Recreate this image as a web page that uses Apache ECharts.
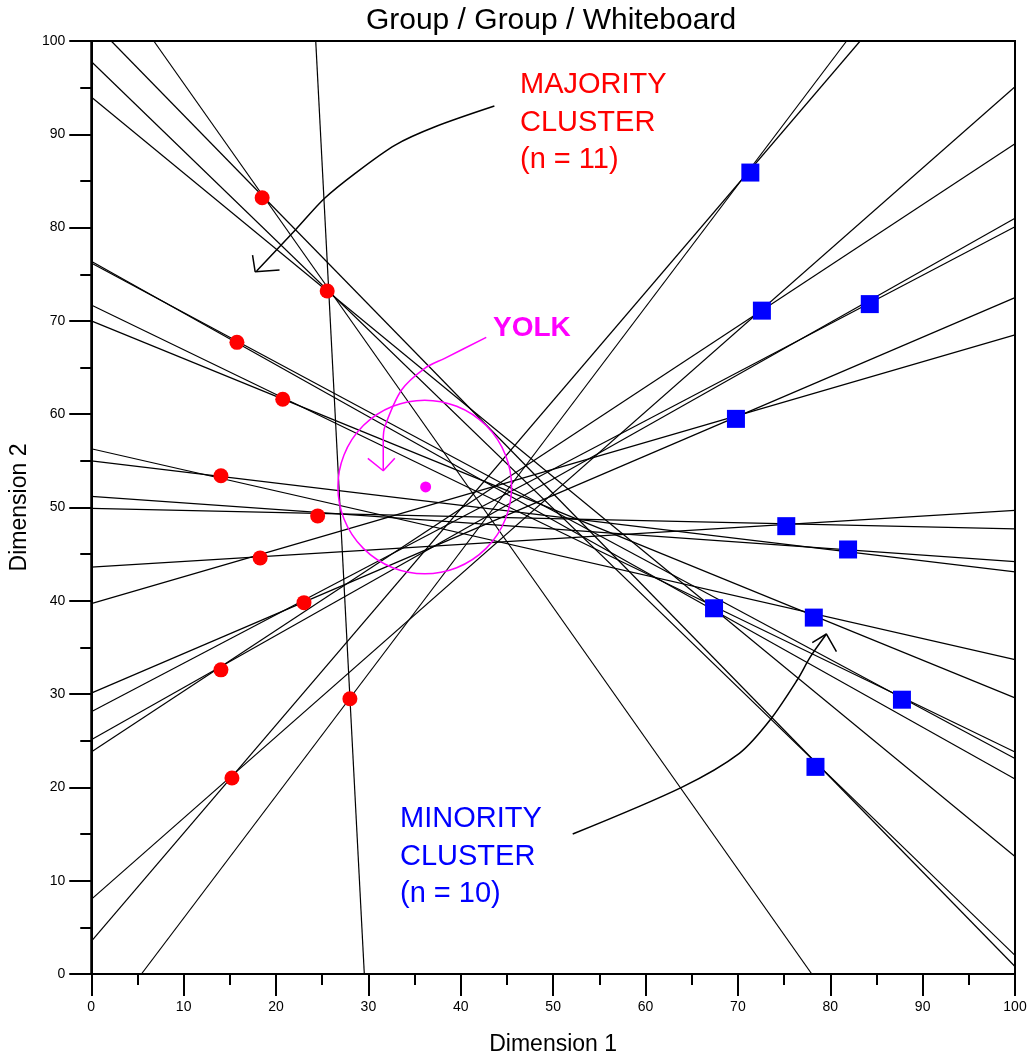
<!DOCTYPE html>
<html>
<head>
<meta charset="utf-8">
<script src="https://cdn.jsdelivr.net/npm/echarts@6/dist/echarts.min.js"></script>
<style>
  html, body { margin: 0; padding: 0; background: #fff; }
  #chart { width: 1032px; height: 1062px; }
</style>
</head>
<body>
<div id="chart"></div>
<script>
// ideal points
var majorityPts = [[18.5, 83.2], [25.54, 73.2], [15.77, 67.7], [20.73, 61.6], [14.04, 53.4], [24.51, 49.1],
                   [18.28, 44.6], [23.03, 39.8], [14.04, 32.6], [28.0, 29.5], [15.23, 21.0]];
var minorityPts = [[71.35, 85.9], [72.6, 71.1], [84.28, 71.8], [69.79, 59.5], [75.24, 48.0],
                   [81.93, 45.5], [67.42, 39.2], [78.22, 38.2], [87.76, 29.4], [78.4, 22.2]];

// yolk
var yolkCenter = [36.1, 52.2];
var yolkRadius = 9.4;
var yolkDot = [[36.2, 52.2]];

// median lines, [x1, y1, x2, y2] where they meet the frame
var medianLines = [
    [6.77, 100, 78.0, 0],
    [24.3, 100, 29.56, 0],
    [2.16, 100, 100, 0.8],
    [0, 97.8, 100, 2.0],
    [0, 94.0, 100, 12.6],
    [0, 3.5, 83.24, 100],
    [5.43, 0, 81.77, 100],
    [0, 8.0, 100, 95.1],
    [0, 23.8, 100, 89.0],
    [0, 25.1, 100, 81.0],
    [0, 28.1, 100, 80.1],
    [0, 30.1, 100, 72.5],
    [0, 39.7, 100, 68.5],
    [0, 43.6, 100, 49.7],
    [0, 49.9, 100, 47.7],
    [0, 51.2, 100, 44.2],
    [0, 55.0, 100, 43.1],
    [0, 56.3, 100, 33.7],
    [0, 71.7, 100, 23.8],
    [0, 70.0, 100, 29.6],
    [0, 76.2, 100, 23.1],
    [0, 76.4, 100, 20.9]
];

// hand-drawn arrows
var majorityArrow = [[43.64, 93.03], [37.22, 90.81], [32.9, 88.85], [28.57, 85.82], [25.26, 83.14], [22.09, 79.74], [17.9, 75.35]];
var majorityHead = [[17.46, 77.06], [17.74, 75.27], [20.38, 75.46]];
var minorityArrow = [[52.12, 15.01], [63.91, 20.01], [70.16, 23.65], [73.48, 27.22], [76.42, 31.51], [77.86, 34.01], [79.59, 36.44]];
var minorityHead = [[78.05, 35.51], [79.59, 36.44], [80.67, 34.54]];
var yolkArrow = [[42.76, 68.24], [38.26, 65.99], [36.1, 64.92], [33.59, 62.59], [31.78, 58.66], [31.61, 57.23], [31.61, 53.94]];
var yolkHead = [[29.94, 55.27], [31.61, 53.94], [32.86, 55.27]];

var FONT = '"Liberation Sans", Arial, sans-serif';

var myChart = echarts.init(document.getElementById('chart'));

function axisCommon(name, gap) {
    return {
        type: 'value',
        min: 0,
        max: 100,
        interval: 10,
        name: name,
        nameLocation: 'middle',
        nameGap: gap,
        nameTextStyle: { color: '#000', fontSize: 23, fontFamily: FONT },
        axisLine: { lineStyle: { color: '#000', width: 2 } },
        axisTick: { length: 22, lineStyle: { color: '#000', width: 2 } },
        minorTick: { show: true, splitNumber: 2, length: 11, lineStyle: { color: '#000', width: 2 } },
        splitLine: { show: false },
        minorSplitLine: { show: false },
        axisLabel: { margin: 26, color: '#000', fontSize: 14, fontFamily: FONT }
    };
}

function curve(data, color, smooth) {
    return {
        type: 'line',
        data: data,
        smooth: smooth,
        showSymbol: false,
        silent: true,
        z: 4,
        lineStyle: { color: color, width: 1.5 }
    };
}

var option = {
    animation: false,
    backgroundColor: '#fff',
    grid: { left: 89, right: 17, top: 41, bottom: 88, show: true, borderColor: '#000', borderWidth: 2 },
    xAxis: axisCommon('Dimension 1', 59),
    yAxis: axisCommon('Dimension 2', 53),
    graphic: [
        { type: 'text', x: 551, y: 21, style: { text: 'Group / Group / Whiteboard', fill: '#000', font: '30px ' + FONT, textAlign: 'center', textVerticalAlign: 'middle' } },
        { type: 'text', x: 520, y: 66.25, style: { text: 'MAJORITY\nCLUSTER\n(n = 11)', fill: '#ff0000', font: '29px ' + FONT, lineHeight: 37.5, textAlign: 'left', textVerticalAlign: 'top' } },
        { type: 'text', x: 400, y: 800.25, style: { text: 'MINORITY\nCLUSTER\n(n = 10)', fill: '#0000ff', font: '29px ' + FONT, lineHeight: 37.5, textAlign: 'left', textVerticalAlign: 'top' } },
        { type: 'text', x: 493, y: 328, style: { text: 'YOLK', fill: '#ff00ff', font: 'bold 28px ' + FONT, textAlign: 'left', textVerticalAlign: 'middle' } }
    ],
    series: [
        {
            type: 'lines',
            coordinateSystem: 'cartesian2d',
            silent: true,
            z: 2,
            lineStyle: { color: '#000', width: 1.2, opacity: 1 },
            data: medianLines.map(function (l) {
                return { coords: [[l[0], l[1]], [l[2], l[3]]] };
            })
        },
        {
            type: 'custom',
            silent: true,
            z: 3,
            renderItem: function (params, api) {
                var c = api.coord([api.value(0), api.value(1)]);
                var s = api.size([api.value(2), api.value(2)]);
                return {
                    type: 'circle',
                    shape: { cx: c[0], cy: c[1], r: s[0] },
                    style: { fill: 'transparent', stroke: '#ff00ff', lineWidth: 1.5 }
                };
            },
            data: [[yolkCenter[0], yolkCenter[1], yolkRadius]]
        },
        curve(majorityArrow, '#000', 0.3),
        curve(majorityHead, '#000', false),
        curve(minorityArrow, '#000', 0.3),
        curve(minorityHead, '#000', false),
        curve(yolkArrow, '#ff00ff', 0.3),
        curve(yolkHead, '#ff00ff', false),
        {
            name: 'Majority',
            type: 'scatter',
            symbol: 'circle',
            symbolSize: 15,
            z: 5,
            itemStyle: { color: '#ff0000', opacity: 1 },
            data: majorityPts
        },
        {
            name: 'Minority',
            type: 'scatter',
            symbol: 'rect',
            symbolSize: 18,
            z: 5,
            itemStyle: { color: '#0000ff', opacity: 1 },
            data: minorityPts
        },
        {
            name: 'Yolk center',
            type: 'scatter',
            symbolSize: 11,
            z: 5,
            itemStyle: { color: '#ff00ff', opacity: 1 },
            data: yolkDot
        }
    ]
};

myChart.setOption(option);
</script>
</body>
</html>
